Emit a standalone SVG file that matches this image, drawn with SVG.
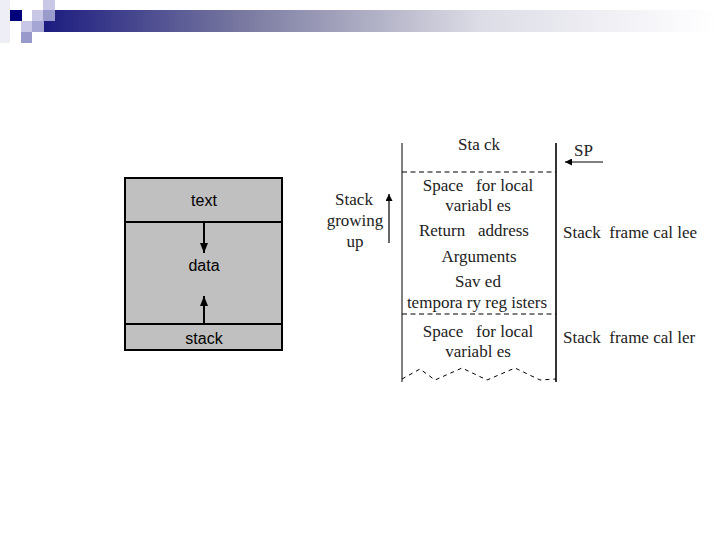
<svg xmlns="http://www.w3.org/2000/svg" width="720" height="540" viewBox="0 0 720 540">
<defs>
<linearGradient id="bar" x1="0" y1="0" x2="1" y2="0">
<stop offset="0" stop-color="#1c1c80"/>
<stop offset="0.29" stop-color="#7878a0"/>
<stop offset="0.5" stop-color="#b4b4c8"/>
<stop offset="0.645" stop-color="#dcdce6"/>
<stop offset="0.95" stop-color="#fbfbfd"/>
<stop offset="1" stop-color="#ffffff"/>
</linearGradient>
<marker id="ah" viewBox="0 0 10 10" refX="10" refY="5" markerWidth="7" markerHeight="7" markerUnits="userSpaceOnUse" orient="auto">
<path d="M0,0 L10,5 L0,10 z" fill="#000"/>
</marker>
<marker id="ah2" viewBox="0 0 10 10" refX="10" refY="5" markerWidth="10" markerHeight="10" markerUnits="userSpaceOnUse" orient="auto">
<path d="M0,1 L10,5 L0,9 z" fill="#000"/>
</marker>
</defs>
<style>
.sans{font-family:"Liberation Sans",Arial,sans-serif;font-size:16px;fill:#000;text-anchor:middle}
.ser{font-family:"Liberation Serif","Times New Roman",serif;font-size:17px;fill:#222;text-anchor:middle;white-space:pre}
.serl{font-family:"Liberation Serif","Times New Roman",serif;font-size:17px;fill:#222;white-space:pre}
.ln{stroke:#000;fill:none}
</style>
<g id="header">
<rect x="44" y="10" width="676" height="22" fill="url(#bar)"/>
<rect x="0" y="0" width="10" height="43" fill="#eeeef6"/>
<rect x="10" y="10" width="12" height="11" fill="#00007a"/>
<rect x="43" y="0" width="12" height="10" fill="#c8c8e6"/>
<rect x="32" y="10" width="11" height="11" fill="#c8c8e6"/>
<rect x="43" y="10" width="12" height="11" fill="#9a9acc"/>
<rect x="21" y="21" width="11" height="11" fill="#c8c8e6"/>
<rect x="32" y="21" width="12" height="11" fill="#a6a6d4"/>
<rect x="21" y="32" width="11" height="11" fill="#9999cc"/>
</g>
<g id="memory">
<rect x="125" y="178" width="157" height="172" fill="#c0c0c0" stroke="#000" stroke-width="2"/>
<line x1="125" y1="222" x2="282" y2="222" stroke="#000" stroke-width="2"/>
<line x1="125" y1="324" x2="282" y2="324" stroke="#000" stroke-width="2"/>
<text class="sans" x="204" y="206">text</text>
<text class="sans" x="204" y="271">data</text>
<text class="sans" x="204" y="344">stack</text>
</g>
<g id="connectors">
<line x1="204" y1="222" x2="204" y2="253" stroke="#000" stroke-width="2" marker-end="url(#ah2)"/>
<line x1="204" y1="324" x2="204" y2="296" stroke="#000" stroke-width="2" marker-end="url(#ah2)"/>
<line x1="389" y1="243" x2="389" y2="194" stroke="#000" stroke-width="1.2" marker-end="url(#ah)"/>
<line x1="603" y1="162" x2="565" y2="162" stroke="#000" stroke-width="1.2" marker-end="url(#ah)"/>
</g>
<g id="stack">
<line class="ln" x1="402" y1="143" x2="402" y2="382" stroke-width="1"/>
<line class="ln" x1="556" y1="143" x2="556" y2="382" stroke-width="1.6"/>
<line class="ln" x1="402" y1="172" x2="556" y2="172" stroke-width="1.2" stroke-dasharray="5,3.5"/>
<line class="ln" x1="402" y1="314" x2="556" y2="314" stroke-width="1.2" stroke-dasharray="5,3.5"/>
<polyline class="ln" points="402,379 420,369 435,380 462,368 487,380 515,368 540,380 556,379" stroke-width="1" stroke-dasharray="4,4"/>
<text class="ser" x="479" y="150">Sta ck</text>
<text class="ser" x="478" y="191">Space   for local</text>
<text class="ser" x="478" y="211">variabl es</text>
<text class="ser" x="474" y="236">Return   address</text>
<text class="ser" x="479" y="262">Arguments</text>
<text class="ser" x="478" y="287">Sav ed</text>
<text class="ser" x="477" y="308">tempora ry reg isters</text>
<text class="ser" x="478" y="337">Space   for local</text>
<text class="ser" x="478" y="357">variabl es</text>
<text class="ser" x="354" y="205">Stack</text>
<text class="ser" x="355" y="226">growing</text>
<text class="ser" x="355" y="247">up</text>
<text class="serl" x="574" y="156">SP</text>
<text class="serl" x="563" y="238">Stack  frame cal lee</text>
<text class="serl" x="563" y="343">Stack  frame cal ler</text>
</g>
</svg>
